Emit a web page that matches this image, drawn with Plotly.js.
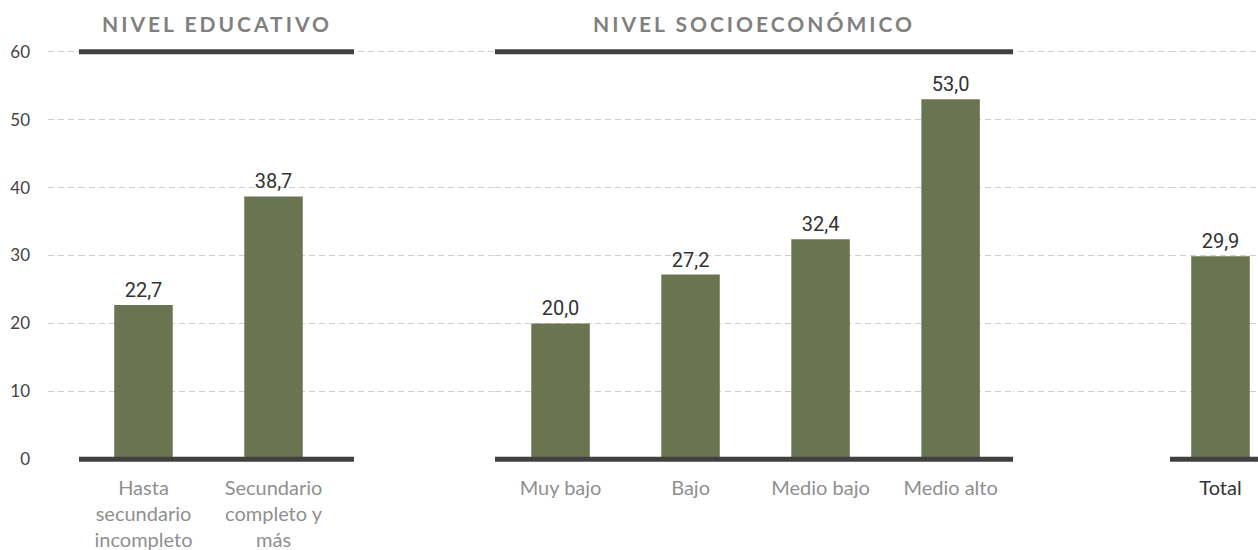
<!DOCTYPE html>
<html>
<head>
<meta charset="utf-8">
<script src="https://cdn.plot.ly/plotly-3.0.1.min.js"></script>
<style>
  html, body { margin: 0; padding: 0; background: #fff; }
  #chart { width: 1258px; height: 550px; }
  .annotation-text { letter-spacing: 3px; }
</style>
</head>
<body>
<div id="chart"></div>
<script>
// ---- data ----
const eduCats = ['Hasta<br>secundario<br>incompleto', 'Secundario<br>completo y<br>más'];
const eduVals = [22.7, 38.7];
const nseCats = ['Muy bajo', 'Bajo', 'Medio bajo', 'Medio alto'];
const nseVals = [20.0, 27.2, 32.4, 53.0];
const totCats = ['Total'];
const totVals = [29.9];
const yTicks = [0, 10, 20, 30, 40, 50, 60];
const groupTitles = ['NIVEL EDUCATIVO', 'NIVEL SOCIOECONÓMICO'];

// ---- style ----
const barColor = '#6b7450';
const dark = '#404040';
const yRange = [-1, 61];
const yPaper = v => (v - yRange[0]) / (yRange[1] - yRange[0]);
const fmt = v => v.toFixed(1).replace('.', ',');

function barTrace(cats, vals, xa) {
  return {
    type: 'bar', x: cats, y: vals, xaxis: xa, yaxis: 'y',
    width: 0.45,
    marker: { color: barColor },
    text: vals.map(fmt), textposition: 'outside', cliponaxis: false,
    textfont: { family: 'Roboto, Arial, sans-serif', size: 20, color: '#333333' },
    hoverinfo: 'x+y', showlegend: false
  };
}

const data = [
  { type: 'scatter', x: [], y: [], xaxis: 'x', yaxis: 'y', showlegend: false },
  barTrace(eduCats, eduVals, 'x2'),
  barTrace(nseCats, nseVals, 'x3'),
  barTrace(totCats, totVals, 'x4')
];

function catAxis(domain, range, color) {
  return {
    type: 'category', domain: domain, range: range, anchor: 'y',
    showgrid: false, zeroline: false, showline: false, ticks: '',
    ticklabelstandoff: 8,
    tickfont: { family: 'Lato, "Open Sans", sans-serif', size: 20, color: color },
    fixedrange: true
  };
}

const lineBase = { color: dark, width: 5 };
const layout = {
  width: 1258, height: 550,
  margin: { l: 48, r: 0, t: 45, b: 84 },
  paper_bgcolor: '#ffffff', plot_bgcolor: '#ffffff',
  showlegend: false,
  xaxis: { domain: [0, 1], range: [0, 1], visible: false, anchor: 'y', fixedrange: true },
  xaxis2: catAxis([31 / 1210, 306 / 1210], [-0.496, 1.619], '#8f8f8f'),
  xaxis3: catAxis([447 / 1210, 965 / 1210], [-0.504, 3.48], '#8f8f8f'),
  xaxis4: catAxis([1122 / 1210, 1], [-0.388, 0.288], '#333333'),
  yaxis: {
    range: yRange, tickvals: yTicks, ticktext: yTicks.map(String),
    showgrid: true, gridcolor: '#cfcfcf', gridwidth: 1, griddash: '6px,4px',
    zeroline: true, zerolinecolor: '#ffffff', zerolinewidth: 1,
    showline: false, ticks: '', ticklabelstandoff: 17,
    tickfont: { family: 'Lato, "Open Sans", sans-serif', size: 17, color: '#444444' },
    anchor: 'x', fixedrange: true
  },
  shapes: [
    { type: 'line', xref: 'x2 domain', x0: 0, x1: 1, yref: 'paper', y0: yPaper(0), y1: yPaper(0), line: lineBase },
    { type: 'line', xref: 'x3 domain', x0: 0, x1: 1, yref: 'paper', y0: yPaper(0), y1: yPaper(0), line: lineBase },
    { type: 'line', xref: 'x4 domain', x0: 0, x1: 1, yref: 'paper', y0: yPaper(0), y1: yPaper(0), line: lineBase },
    { type: 'line', xref: 'x2 domain', x0: 0, x1: 1, yref: 'paper', y0: yPaper(60), y1: yPaper(60), line: lineBase },
    { type: 'line', xref: 'x3 domain', x0: 0, x1: 1, yref: 'paper', y0: yPaper(60), y1: yPaper(60), line: lineBase }
  ],
  annotations: groupTitles.map((t, i) => ({
    xref: 'x' + (i + 2) + ' domain', x: 0.5, yref: 'paper', y: 1.05,
    xanchor: 'center', yanchor: 'middle', showarrow: false,
    text: '<b>' + t + '</b>',
    font: { family: 'Lato, "Open Sans", sans-serif', size: 21, color: '#808080' }
  }))
};

Plotly.newPlot('chart', data, layout, { displayModeBar: false, staticPlot: true });
</script>
</body>
</html>
